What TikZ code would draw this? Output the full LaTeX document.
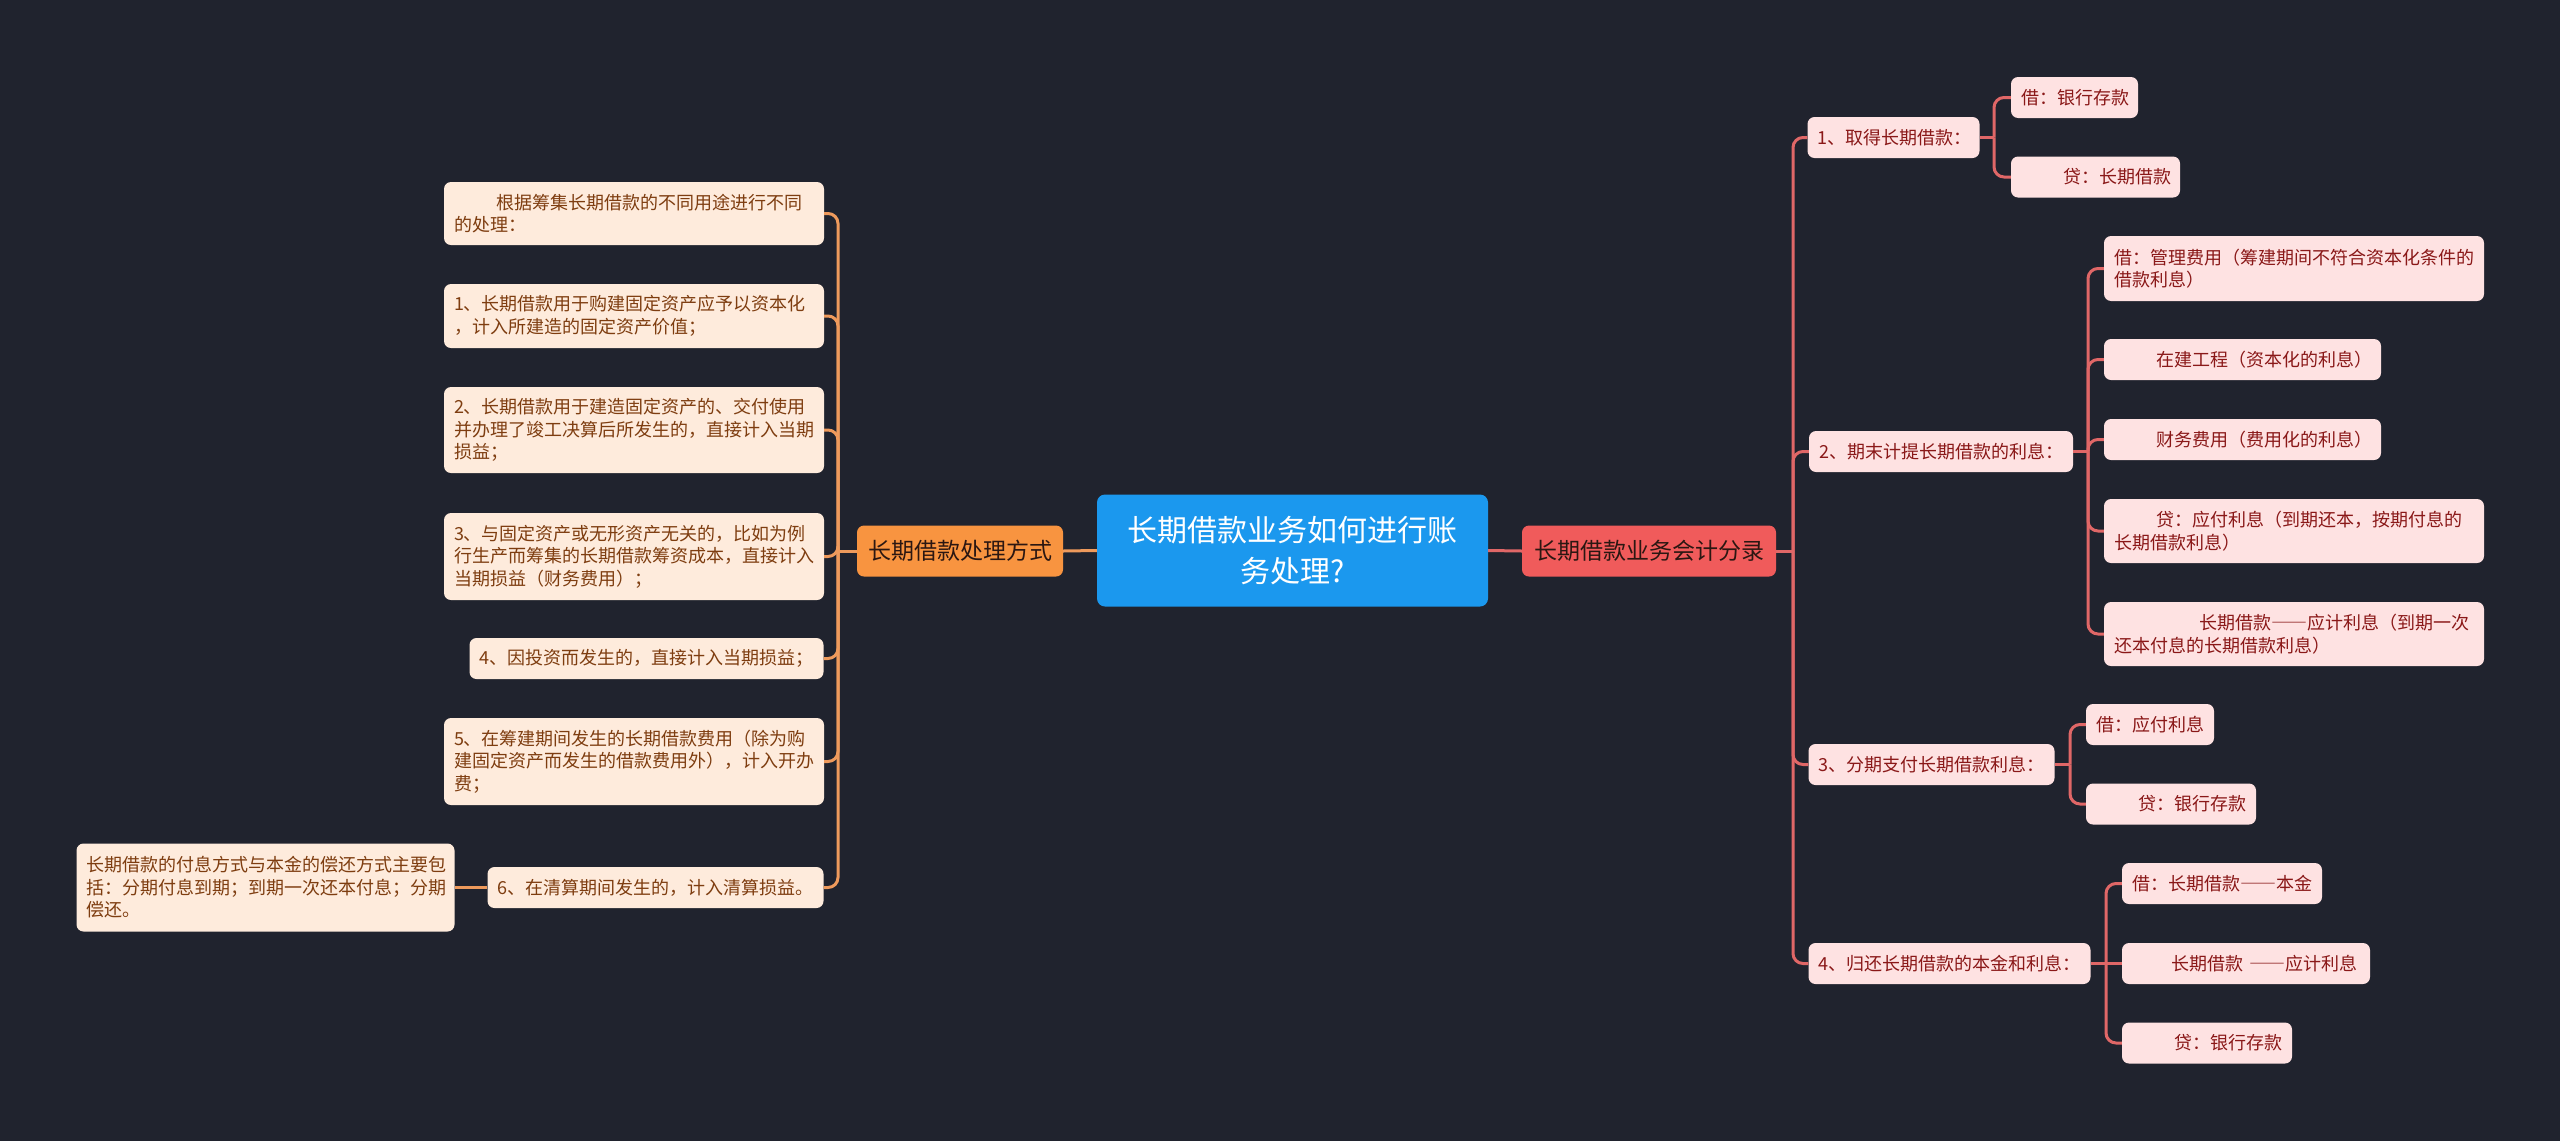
\documentclass[tikz,border=0pt]{standalone}
\usepackage{fontspec}
\setmainfont{Noto Sans CJK SC}
\newcommand{\fwdash}{{\addfontfeature{CharacterWidth=Full}——}}
\definecolor{bg}{HTML}{20232E}
\definecolor{lfill}{HTML}{FEEBDC}
\definecolor{ltext}{HTML}{7E3D10}
\definecolor{rfill}{HTML}{FEE2E2}
\definecolor{rtext}{HTML}{8A1818}
\definecolor{lcol}{HTML}{EE9A5C}
\definecolor{rcol}{HTML}{E06767}
\definecolor{cfill}{HTML}{1B98EE}
\definecolor{rmfill}{HTML}{F05B5B}
\definecolor{lmfill}{HTML}{F89440}
\definecolor{mtext}{HTML}{2B1712}
\tikzset{
  base/.style={rounded corners=7pt, inner xsep=10pt, inner ysep=0pt, align=left,
    font=\fontsize{18}{22.5}\selectfont},
  lleaf/.style={base, fill=lfill, text=ltext},
  rleaf/.style={base, fill=rfill, text=rtext},
  lline/.style={draw=lcol, line width=3pt, rounded corners=10pt},
  rline/.style={draw=rcol, line width=3pt, rounded corners=10pt},
}
\begin{document}
\begin{tikzpicture}[x=1pt,y=-1pt]
\fill[bg] (0,0) rectangle (2560,1141);
\useasboundingbox (0,0) rectangle (2560,1141);

% central
\node[fill=cfill, text=white, rounded corners=8pt, minimum width=391pt, minimum height=112pt,
  align=center, inner sep=0pt, font=\fontsize{30}{41}\selectfont] (C) at (1292.5,550.5)
  {长期借款业务如何进行账\\务处理?};
\node[fill=rmfill, text=mtext, rounded corners=7pt, minimum width=254pt, minimum height=51pt,
  inner sep=0pt, font=\fontsize{23}{28}\selectfont] (RM) at (1649,551) {长期借款业务会计分录};
\node[fill=lmfill, text=mtext, rounded corners=7pt, minimum width=206pt, minimum height=51pt,
  inner sep=0pt, font=\fontsize{23}{28}\selectfont] (LM) at (960,551) {长期借款处理方式};

% left leaves
\node[lleaf, text width=360pt, minimum height=63pt] (L0) at (634,213.5)
  {\hspace*{2.35em}根据筹集长期借款的不同用途进行不同\\的处理：};
\node[lleaf, text width=360pt, minimum height=64pt] (L1) at (634,316)
  {1、长期借款用于购建固定资产应予以资本化\\，计入所建造的固定资产价值；};
\node[lleaf, text width=360pt, minimum height=86pt] (L2) at (634,430)
  {2、长期借款用于建造固定资产的、交付使用\\并办理了竣工决算后所发生的，直接计入当期\\损益；};
\node[lleaf, text width=360pt, minimum height=87pt] (L3) at (634,556.5)
  {3、与固定资产或无形资产无关的，比如为例\\行生产而筹集的长期借款筹资成本，直接计入\\当期损益（财务费用）；};
\node[lleaf, text width=334pt, minimum height=41pt] (L4) at (646.5,658.5)
  {4、因投资而发生的，直接计入当期损益；};
\node[lleaf, text width=360pt, minimum height=87pt] (L5) at (634,761.5)
  {5、在筹建期间发生的长期借款费用（除为购\\建固定资产而发生的借款费用外），计入开办\\费；};
\node[lleaf, text width=316pt, minimum height=41pt] (L6) at (655.5,887.5)
  {6、在清算期间发生的，计入清算损益。};
\node[lleaf, text width=358pt, minimum height=88pt] (L6c) at (265.5,887.5)
  {长期借款的付息方式与本金的偿还方式主要包\\括：分期付息到期；到期一次还本付息；分期\\偿还。};

% right level 1
\node[rleaf, text width=152pt, minimum height=41pt] (R1) at (1893.5,137.5) {1、取得长期借款：};
\node[rleaf, text width=244pt, minimum height=41pt] (R2) at (1941,451.5) {2、期末计提长期借款的利息：};
\node[rleaf, text width=226pt, minimum height=41pt] (R3) at (1931.5,764.5) {3、分期支付长期借款利息：};
\node[rleaf, text width=262pt, minimum height=41pt] (R4) at (1949.5,963.5) {4、归还长期借款的本金和利息：};

% right level 2
\node[rleaf, text width=107pt, minimum height=41pt] (R1a) at (2074.5,97.5) {借：银行存款};
\node[rleaf, text width=149pt, minimum height=41pt] (R1b) at (2095.5,177) {\hspace*{2.35em}贷：长期借款};

\node[rleaf, text width=360pt, minimum height=65pt] (R2a) at (2294,268.5)
  {借：管理费用（筹建期间不符合资本化条件的\\借款利息）};
\node[rleaf, text width=257pt, minimum height=41pt] (R2b) at (2242.5,359.5) {\hspace*{2.35em}在建工程（资本化的利息）};
\node[rleaf, text width=257pt, minimum height=41pt] (R2c) at (2242.5,439.5) {\hspace*{2.35em}财务费用（费用化的利息）};
\node[rleaf, text width=360pt, minimum height=64pt] (R2d) at (2294,531)
  {\hspace*{2.35em}贷：应付利息（到期还本，按期付息的\\长期借款利息）};
\node[rleaf, text width=360pt, minimum height=64pt] (R2e) at (2294,634)
  {\hspace*{4.75em}长期借款\fwdash 应计利息（到期一次\\还本付息的长期借款利息）};

\node[rleaf, text width=108pt, minimum height=41pt] (R3a) at (2150,724.5) {借：应付利息};
\node[rleaf, text width=150pt, minimum height=41pt] (R3b) at (2171,804) {\hspace*{2.35em}贷：银行存款};

\node[rleaf, text width=180pt, minimum height=41pt] (R4a) at (2222,883.5) {借：长期借款\fwdash 本金};
\node[rleaf, text width=228pt, minimum height=41pt] (R4b) at (2246,963.5) {\hspace*{2.2em}长期借款~\fwdash 应计利息};
\node[rleaf, text width=150pt, minimum height=41pt] (R4c) at (2207,1043) {\hspace*{2.35em}贷：银行存款};

% junction coordinates
\coordinate (lt) at (838,551);
\coordinate (rt) at (1793,551);
\coordinate (t1) at (1994,137.5);
\coordinate (t2) at (2088,451.5);
\coordinate (t3) at (2070,764.5);
\coordinate (t4) at (2106,963.5);

% connectors
\draw[rline] (C.east) -- (RM.west);
\draw[lline] (C.west) -- (LM.east);

\draw[lline] (LM.west) -- (lt);
\foreach \n in {L0,L1,L2,L3,L4,L5,L6} { \draw[lline] (lt) |- (\n.east); }
\draw[lline] (L6.west) -- (L6c.east);

\draw[rline] (RM.east) -- (rt);
\foreach \n in {R1,R2,R3,R4} { \draw[rline] (rt) |- (\n.west); }

\draw[rline] (R1.east) -- (t1);
\foreach \n in {R1a,R1b} { \draw[rline] (t1) |- (\n.west); }
\draw[rline] (R2.east) -- (t2);
\foreach \n in {R2a,R2b,R2c,R2d,R2e} { \draw[rline] (t2) |- (\n.west); }
\draw[rline] (R3.east) -- (t3);
\foreach \n in {R3a,R3b} { \draw[rline] (t3) |- (\n.west); }
\draw[rline] (R4.east) -- (t4);
\foreach \n in {R4a,R4c} { \draw[rline] (t4) |- (\n.west); }
\draw[rline] (t4) -- (R4b.west);
\end{tikzpicture}
\end{document}
